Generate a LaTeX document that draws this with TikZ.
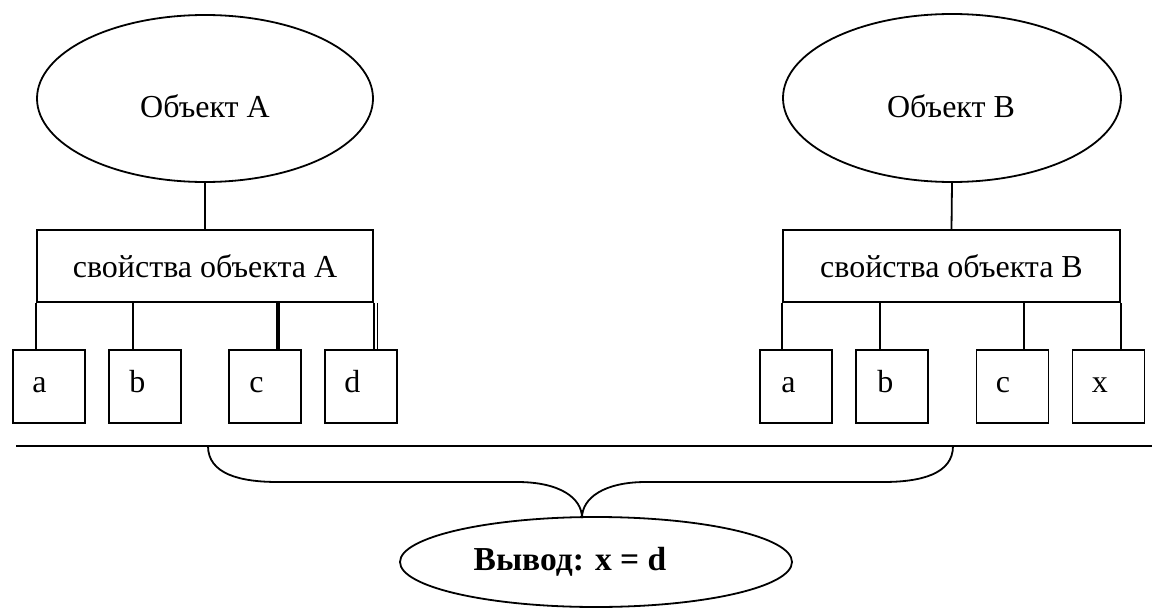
\documentclass[tikz,border=0pt]{standalone}
\usepackage{fontspec}
\setmainfont{Liberation Serif}
\usetikzlibrary{shapes.geometric}
\begin{document}
\begin{tikzpicture}[x=1pt,y=-1pt,
  every node/.style={font=\fontsize{32}{37}\selectfont},
  ln/.style={line width=1.8pt},
  thk/.style={line width=2.6pt},
  oval/.style={draw, ln, ellipse, inner sep=0pt},
  propbox/.style={draw, ln, minimum width=336pt, minimum height=72pt, inner sep=0pt},
  sbox/.style={draw, ln, minimum width=72pt, minimum height=73pt, inner sep=0pt},
  lbl/.style={anchor=base west, inner sep=0pt},
  txt/.style={inner sep=0pt}]
\useasboundingbox (0,0) rectangle (1157,610);

% top ellipses
\node[oval, minimum width=336pt, minimum height=167pt] (eA) at (205,98.5) {};
\node[txt] (teA) at (205,106) {Объект А};
\node[oval, minimum width=338pt, minimum height=168pt] (eB) at (952,98) {};
\node[txt] (teB) at (951,106) {Объект В};

% property boxes
\node[propbox] (pA) at (205,266) {свойства объекта А};
\node[propbox, minimum width=337pt] (pB) at (951.5,266) {свойства объекта В};

\draw[ln] (eA.south) -- (pA.north);
\draw[ln] (eB.south) -- (pB.north);

% left small boxes
\node[sbox] (a1) at (49,386.5) {};
\node[sbox] (a2) at (145,386.5) {};
\node[sbox] (a3) at (265,386.5) {};
\node[sbox] (a4) at (361,386.5) {};
\node[lbl] (ta1) at ([xshift=20pt,yshift=-5.5pt]a1.west) {a};
\node[lbl] (ta2) at ([xshift=21pt,yshift=-5.5pt]a2.west) {b};
\node[lbl] (ta3) at ([xshift=21pt,yshift=-5.5pt]a3.west) {c};
\node[lbl] (ta4) at ([xshift=20pt,yshift=-5.5pt]a4.west) {d};

% right small boxes
\node[sbox] (b1) at (796,386.5) {};
\node[sbox] (b2) at (892,386.5) {};
\node[sbox] (b3) at (1012.5,386.5) {};
\node[sbox] (b4) at (1108.5,386.5) {};
\node[lbl] (tb1) at ([xshift=22pt,yshift=-5.5pt]b1.west) {a};
\node[lbl] (tb2) at ([xshift=22pt,yshift=-5.5pt]b2.west) {b};
\node[lbl] (tb3) at ([xshift=20pt,yshift=-5.5pt]b3.west) {c};
\node[lbl] (tb4) at ([xshift=20pt,yshift=-5.5pt]b4.west) {x};

% left connectors
\draw[thk] (pA.south west) -- (pA.south west |- a1.north);
\draw[thk] ([xshift=-12pt]a2.north |- pA.south) -- ([xshift=-12pt]a2.north);
\draw[line width=3.6pt] ([xshift=13pt]a3.north |- pA.south) -- ([xshift=13pt]a3.north);
\draw[ln] (pA.south east) -- (pA.south east |- a4.north);
\draw[line width=1.4pt] ([xshift=3.5pt]pA.south east) -- ([xshift=3.5pt]pA.south east |- a4.north);

% right connectors
\draw[ln] (pB.south west) -- (pB.south west |- b1.north);
\draw[ln] ([xshift=-12pt]b2.north |- pB.south) -- ([xshift=-12pt]b2.north);
\draw[ln] ([xshift=11.5pt]b3.north |- pB.south) -- ([xshift=11.5pt]b3.north);
\draw[ln] (pB.south east) -- (pB.south east |- b4.north);

% horizontal rule
\coordinate (hl) at (16,446);
\coordinate (hr) at (1152,446);
\draw[line width=2.2pt] (hl) -- (hr);

% conclusion
\node[oval, minimum width=392pt, minimum height=90pt] (eC) at (596,562) {};
\node[txt, font=\fontsize{33.5}{38}\selectfont\bfseries] (teC) at (570,562) {Вывод: x = d};

% brace
\coordinate (bl) at (208,446);
\coordinate (br) at (953,446);
\coordinate (tip) at (582,518);
\draw[ln] (bl) .. controls (208,474) and (240,482) .. (278,482)
  -- (517,482) .. controls (560,482) and (582,498) .. (tip)
  (tip) .. controls (582,498) and (604,482) .. (646,482)
  -- (883,482) .. controls (921,482) and (953,474) .. (br);
\end{tikzpicture}
\end{document}
